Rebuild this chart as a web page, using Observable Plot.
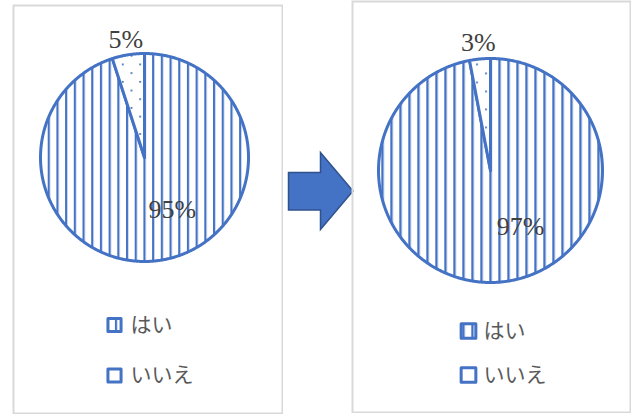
<!DOCTYPE html>
<html>
<head>
<meta charset="utf-8">
<script src="https://cdn.jsdelivr.net/npm/d3@7"></script>
<script src="https://cdn.jsdelivr.net/npm/@observablehq/plot@0.6"></script>
<style>
  body { margin: 0; background: #fff; }
  #chart { position: relative; width: 638px; height: 416px; overflow: hidden; background: #fff; }
  #chart svg.panel { position: absolute; }
  #arrow { position: absolute; left: 0; top: 0; }
</style>
</head>
<body>
<div id="chart">
  <svg id="arrow" width="638" height="416">
    <polygon points="288.5,172.5 320.5,172.5 320.5,152.5 353,191 320.5,229.5 320.5,210 288.5,210"
             fill="#4472C4" stroke="#2F528F" stroke-width="1.5" stroke-linejoin="miter"/>
  </svg>
</div>
<script>
// Survey answers, before and after (percent of respondents)
const categories = ["はい", "いいえ"];
const sharesBefore = [95, 5];
const sharesAfter = [97, 3];

const BLUE = "#4472C4";

// Slice outlines in radius units: angle measured clockwise from 12 o'clock
function slices(shares) {
  const total = d3.sum(shares);
  let start = 0;
  return shares.map((v, i) => {
    const a0 = (start / total) * 2 * Math.PI;
    const a1 = ((start + v) / total) * 2 * Math.PI;
    start += v;
    const n = Math.max(2, Math.ceil((a1 - a0) / (Math.PI / 360)));
    const pts = [{x: 0, y: 0}];
    for (let k = 0; k <= n; k++) {
      const a = a0 + ((a1 - a0) * k) / n;
      pts.push({x: Math.sin(a), y: Math.cos(a)});
    }
    pts.push({x: 0, y: 0});
    return {category: categories[i], value: v, index: i, a0, a1, pts};
  });
}

function piePanel(cfg) {
  const {id, shares, left, top, W, H, cx, cy, r, period, stripeW} = cfg;
  const ux = (px) => (px - cx) / r;   // panel pixel -> radius units
  const uy = (py) => (cy - py) / r;

  const fills = [`url(#stripes-${id})`, `url(#dots-${id})`];
  const parts = slices(shares);

  // Big slice label sits inside the pie, small slice label just outside its rim
  const labels = parts.map((s) => {
    const inside = s.index === 0;
    const a = inside ? (152 * Math.PI) / 180 : (s.a0 + s.a1) / 2;
    const k = inside ? 0.57 : 1.15;
    return {x: k * Math.sin(a), y: k * Math.cos(a), text: `${s.value}%`};
  });

  const legendRows = categories.map((c, i) => ({
    label: c,
    x: ux(cfg.swatchX),
    tx: ux(cfg.textX),
    y: uy(cfg.legendY[i]),
    fill: i === 0 ? fills[0] : "#ffffff"
  }));

  const svg = Plot.plot({
    width: W,
    height: H,
    margin: 0,
    x: {domain: [-cx / r, (W - cx) / r], axis: null},
    y: {domain: [(cy - H) / r, cy / r], axis: null},
    color: {type: "identity"},
    marks: [
      Plot.frame({stroke: "#d9d9d9", strokeWidth: 2, inset: 1}),
      ...parts.map((s, i) =>
        Plot.line(s.pts, {
          x: "x", y: "y",
          fill: fills[i],
          stroke: BLUE,
          strokeWidth: 3,
          strokeLinejoin: "round"
        })
      ),
      Plot.text(labels, {
        x: "x", y: "y", text: "text",
        fontFamily: "'Liberation Serif', 'Times New Roman', serif",
        fontSize: 26,
        fill: "#404040"
      }),
      Plot.dot(legendRows, {
        x: "x", y: "y",
        symbol: "square",
        r: cfg.swatchR,
        fill: "fill",
        stroke: BLUE,
        strokeWidth: 3,
        strokeLinejoin: "round"
      }),
      Plot.text(legendRows, {
        x: "tx", y: "y", text: "label",
        textAnchor: "start",
        fontFamily: "'Noto Sans CJK JP', sans-serif",
        fontSize: 21,
        fill: "#595959"
      })
    ]
  });

  // Hatch fills used by the slices and the legend swatch
  const defs = d3.select(svg).insert("defs", ":first-child");
  const stripes = defs.append("pattern")
    .attr("id", `stripes-${id}`)
    .attr("patternUnits", "userSpaceOnUse")
    .attr("x", cx - stripeW / 2).attr("y", 0)
    .attr("width", period).attr("height", period);
  stripes.append("rect").attr("width", period).attr("height", period).attr("fill", "#fff");
  stripes.append("rect").attr("width", stripeW).attr("height", period).attr("fill", BLUE);

  const dp = period * 2, dot = 1.8;
  const dots = defs.append("pattern")
    .attr("id", `dots-${id}`)
    .attr("patternUnits", "userSpaceOnUse")
    .attr("x", cx - period / 2 - dot / 2).attr("y", cfg.dotY)
    .attr("width", dp).attr("height", dp);
  dots.append("rect").attr("width", dp).attr("height", dp).attr("fill", "#fff");
  dots.append("rect").attr("x", 0).attr("y", 0).attr("width", dot).attr("height", dot).attr("fill", BLUE);
  dots.append("rect").attr("x", period).attr("y", period).attr("width", dot).attr("height", dot).attr("fill", BLUE);

  svg.classList.add("panel");
  svg.style.left = `${left}px`;
  svg.style.top = `${top}px`;
  return svg;
}

const chart = document.getElementById("chart");

chart.appendChild(piePanel({
  id: "before", shares: sharesBefore,
  left: 12, top: 4, W: 271, H: 410,
  cx: 132, cy: 153, r: 104,
  period: 8.7, stripeW: 2.2, dotY: 59,
  swatchX: 102, textX: 118, legendY: [320.5, 371], swatchR: 7.4
}));

chart.appendChild(piePanel({
  id: "after", shares: sharesAfter,
  left: 351, top: 0, W: 280, H: 413,
  cx: 139, cy: 170, r: 112,
  period: 9, stripeW: 2.4, dotY: 72,
  swatchX: 117, textX: 132, legendY: [330.5, 374.5], swatchR: 8.3
}));
</script>
</body>
</html>
